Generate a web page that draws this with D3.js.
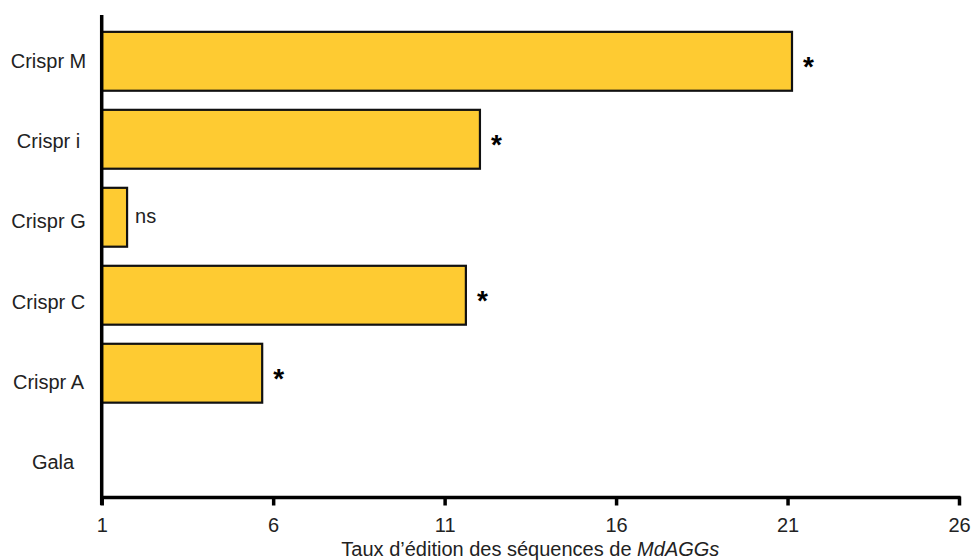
<!DOCTYPE html>
<html><head><meta charset="utf-8">
<script src="https://cdn.jsdelivr.net/npm/d3@7"></script>
<style>body{margin:0;background:#fff}svg{display:block}text{font-family:"Liberation Sans",Arial,sans-serif;fill:#222}</style>
</head><body>
<script>
const categories = ["Crispr M","Crispr i","Crispr G","Crispr C","Crispr A","Gala"];
const values = [21.13, 12.03, 1.74, 11.62, 5.68, 1];
const significance = ["*","*","ns","*","*",""];
const xTicks = [1,6,11,16,21,26];

const W=973,H=560;
const svg=d3.select("body").append("svg").attr("width",W).attr("height",H);
const x=d3.scaleLinear().domain([1,26]).range([101.7,959]);
const y=d3.scaleBand().domain(categories).range([22.5,490]).paddingInner(0.245).paddingOuter(0.12);
const yLabel=d3.scalePoint().domain(categories).range([61,462]);

// bars
svg.selectAll("rect.bar").data(categories).enter().append("rect")
  .attr("x",x(1)).attr("y",d=>y(d))
  .attr("width",(d,i)=>x(values[i])-x(1)).attr("height",y.bandwidth())
  .attr("fill",(d,i)=>values[i]>1?"#FECB32":"none")
  .attr("stroke",(d,i)=>values[i]>1?"#111":"none").attr("stroke-width",2.2);

// significance marks
svg.selectAll("text.sig").data(categories).enter().append("text")
  .each(function(d,i){
    const s=significance[i], ns=s==="ns";
    d3.select(this).text(s)
      .attr("x",x(values[i])+(ns?8:11))
      .attr("y",y(d)+y.bandwidth()/2+(ns?6:15))
      .attr("font-size",ns?20:28)
      .attr("font-weight",ns?"normal":"bold")
      .style("fill",ns?"#222":"#000");
  });

// category labels
svg.selectAll("text.cat").data(categories).enter().append("text")
  .attr("x",(d,i)=>i===5?53:48.5).attr("y",d=>yLabel(d)+7)
  .attr("text-anchor","middle").attr("font-size",20).text(d=>d);

// y axis line
svg.append("line").attr("x1",x(1)).attr("x2",x(1)).attr("y1",15).attr("y2",505)
  .attr("stroke","#000").attr("stroke-width",3.5);

// x axis
const xAxis=d3.axisBottom(x).tickValues(xTicks).tickSize(8).tickPadding(12).tickSizeOuter(0);
const gx=svg.append("g").attr("transform","translate(0,497.5)").call(xAxis);
gx.select(".domain").attr("stroke","#000").attr("stroke-width",3.5).attr("d",`M${x(1)},0H${x(26)+1.5}`);
gx.selectAll(".tick line").attr("stroke","#000").attr("stroke-width",3.5).attr("y1",-1);
gx.selectAll(".tick text").attr("font-size",20).attr("font-family","Liberation Sans, Arial, sans-serif").style("fill","#222");

// axis title
const t=svg.append("text").attr("x",(x(1)+x(26))/2).attr("y",556).attr("text-anchor","middle").attr("font-size",20);
t.append("tspan").text("Taux d’édition des séquences de ");
t.append("tspan").attr("font-style","italic").text("MdAGGs");
</script>
</body></html>
